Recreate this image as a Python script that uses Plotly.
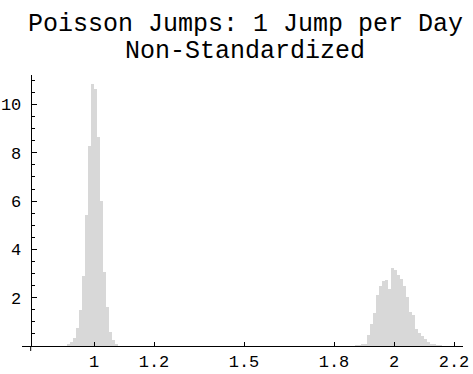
import plotly.graph_objects as go

# Histogram bins (left edges, width 0.01) and densities
bin_width = 0.01
peak1_left = [0.91, 0.92, 0.93, 0.94, 0.95, 0.96, 0.97, 0.98, 0.99, 1.00, 1.01,
              1.02, 1.03, 1.04, 1.05, 1.06, 1.07]
peak1_height = [0.05, 0.15, 0.35, 0.75, 1.47, 2.9, 5.41, 8.26, 10.83, 10.65, 8.65,
                5.99, 3.07, 1.6, 0.58, 0.26, 0.08]

peak2_left = [1.87, 1.88, 1.89, 1.90, 1.91, 1.92, 1.93, 1.94, 1.95, 1.96, 1.97,
              1.98, 1.99, 2.00, 2.01, 2.02, 2.03, 2.04, 2.05, 2.06, 2.07, 2.08,
              2.09, 2.10, 2.11, 2.12, 2.13, 2.14, 2.15]
peak2_height = [0.02, 0.03, 0.05, 0.1, 0.45, 0.9, 1.35, 2.1, 2.5, 2.7, 2.75,
                2.35, 3.21, 3.14, 2.95, 2.78, 2.47, 2.03, 1.4, 1.3, 0.72, 0.55,
                0.42, 0.28, 0.15, 0.1, 0.05, 0.04, 0.03]

x_ticks = [1, 1.2, 1.5, 1.8, 2, 2.2]
x_tick_labels = ["1", "1.2", "1.5", "1.8", "2", "2.2"]
y_ticks = [2, 4, 6, 8, 10]
y_tick_labels = ["2", "4", "6", "8", "10"]

title_line1 = "Poisson Jumps: 1 Jump per Day"
title_line2 = "Non-Standardized"

lefts = peak1_left + peak2_left
heights = peak1_height + peak2_height
centers = [l + bin_width / 2 for l in lefts]

FONT = "Liberation Mono, Courier New, monospace"
BAR = "rgb(216,216,216)"

fig = go.Figure()
fig.add_trace(go.Bar(
    x=centers, y=heights, width=[bin_width] * len(centers),
    marker=dict(color=BAR, line=dict(width=0)),
    hoverinfo="skip", showlegend=False,
))

x_min, x_max = 0.76, 2.23
y_axis_x = 0.789
y_min, y_max = 0.0, 11.22

ml, mr, mt, mb = 22, 10, 75, 27.5
W, H = 473, 374
pw = W - ml - mr
ph = H - mt - mb
yaxis_pos = (y_axis_x - x_min) / (x_max - x_min)

fig.update_layout(
    width=W, height=H,
    margin=dict(l=ml, r=mr, t=mt, b=mb, pad=0),
    paper_bgcolor="white", plot_bgcolor="white",
    bargap=0,
    font=dict(family=FONT, size=17, color="black"),
    xaxis=dict(
        range=[x_min, x_max], showgrid=False, zeroline=False,
        showline=True, linecolor="black", linewidth=1,
        ticks="inside", ticklen=4, tickwidth=1, tickcolor="black",
        tickvals=x_ticks, ticktext=x_tick_labels,
        tickfont=dict(family=FONT, size=17, color="black"),
        automargin=False, fixedrange=True,
    ),
    yaxis=dict(
        range=[y_min, y_max], showgrid=False, zeroline=False,
        anchor="free", position=yaxis_pos,
        showline=True, linecolor="black", linewidth=1,
        ticks="inside", ticklen=5, tickwidth=1, tickcolor="black",
        tickvals=y_ticks, ticktext=y_tick_labels,
        ticklabelstandoff=6,
        tickfont=dict(family=FONT, size=17, color="black"),
        minor=dict(tickmode="linear", tick0=0, dtick=0.5, ticks="inside",
                   ticklen=3, tickwidth=1, tickcolor="black", showgrid=False),
        automargin=False, fixedrange=True,
    ),
)

# small extension of the vertical axis below the horizontal one
fig.add_shape(type="line", xref="x", yref="paper", x0=y_axis_x, x1=y_axis_x,
              y0=-5.0 / ph, y1=0, line=dict(color="black", width=1))

title_cx = (245 - ml) / pw
fig.add_annotation(text=title_line1, xref="paper", yref="paper",
                   x=title_cx, y=(H - mb - 24.5) / ph, xanchor="center", yanchor="middle",
                   showarrow=False, font=dict(family=FONT, size=25, color="black"))
fig.add_annotation(text=title_line2, xref="paper", yref="paper",
                   x=title_cx, y=(H - mb - 51.5) / ph, xanchor="center", yanchor="middle",
                   showarrow=False, font=dict(family=FONT, size=25, color="black"))

fig.write_html("out.html", config={"displayModeBar": False},
               post_script="document.body.style.margin='0';")
